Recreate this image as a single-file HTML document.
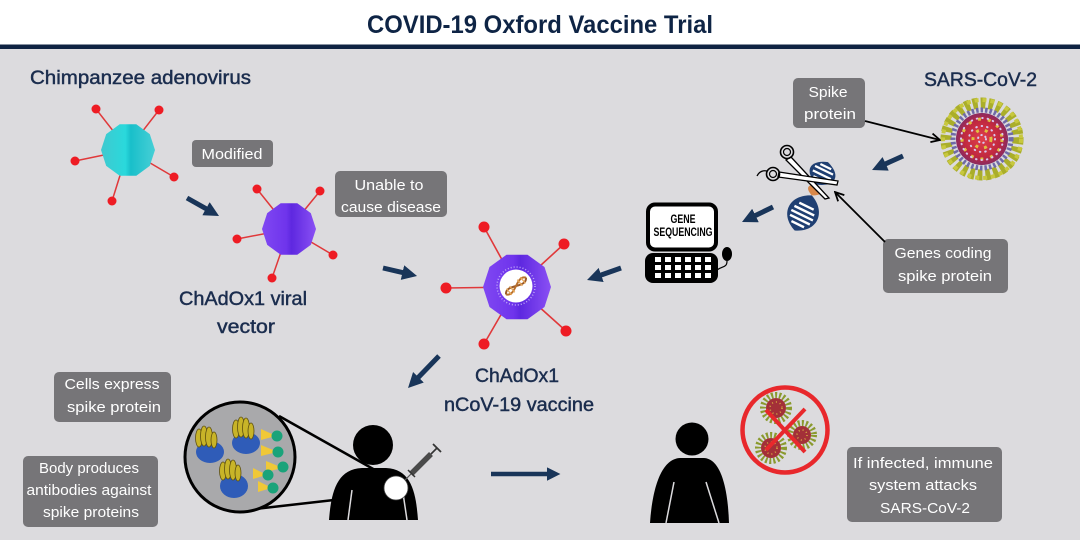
<!DOCTYPE html>
<html><head><meta charset="utf-8"><style>
html,body{margin:0;padding:0;background:#dcdbde;}
svg{display:block;}
.h{font-family:"Liberation Sans",sans-serif;fill:#1b2d4e;stroke:#1b2d4e;stroke-width:0.45;font-size:19px;}
.b{font-family:"Liberation Sans",sans-serif;fill:#ffffff;font-size:15px;text-anchor:middle;}
</style></head><body>
<svg width="1080" height="540" viewBox="0 0 1080 540" xmlns="http://www.w3.org/2000/svg">
<defs>
<marker id="ah" viewBox="0 0 10 10" refX="6" refY="5" markerWidth="3" markerHeight="3" orient="auto" markerUnits="strokeWidth"><path d="M0,0 L10,5 L0,10 z" fill="#193559"/></marker>
<marker id="va" viewBox="0 0 10 10" refX="9" refY="5" markerWidth="11" markerHeight="11" orient="auto" markerUnits="userSpaceOnUse"><path d="M1,1 L9,5 L1,9" fill="none" stroke="#000" stroke-width="1.6"/></marker>
<linearGradient id="gc" x1="0" y1="0" x2="1" y2="0"><stop offset="0" stop-color="#3fc9cf"/><stop offset="0.45" stop-color="#2ad9dc"/><stop offset="0.55" stop-color="#19bfca"/><stop offset="1" stop-color="#47cfd6"/></linearGradient>
<linearGradient id="gp" x1="0" y1="0" x2="1" y2="0"><stop offset="0" stop-color="#8048f2"/><stop offset="0.45" stop-color="#6f34ec"/><stop offset="0.55" stop-color="#5e28e0"/><stop offset="1" stop-color="#8a50f4"/></linearGradient>
<radialGradient id="gr"><stop offset="0" stop-color="#e0404a"/><stop offset="0.7" stop-color="#c02840"/><stop offset="1" stop-color="#8a2a60"/></radialGradient>
</defs>
<rect x="0" y="0" width="1080" height="540" fill="#dcdbde"/>
<rect x="0" y="0" width="1080" height="45" fill="#ffffff"/>
<rect x="0" y="44.5" width="1080" height="4.5" fill="#0f2342"/>
<text x="540" y="33" text-anchor="middle" font-family="Liberation Sans, sans-serif" font-weight="bold" font-size="25" fill="#0e2445" textLength="346" lengthAdjust="spacingAndGlyphs">COVID-19 Oxford Vaccine Trial</text>

<!-- headings -->
<text class="h" x="30" y="84" textLength="221" lengthAdjust="spacingAndGlyphs">Chimpanzee adenovirus</text>
<text class="h" x="924" y="86" textLength="113" lengthAdjust="spacingAndGlyphs">SARS-CoV-2</text>
<text class="h" x="243" y="305" text-anchor="middle" textLength="128" lengthAdjust="spacingAndGlyphs">ChAdOx1 viral</text>
<text class="h" x="246" y="333" text-anchor="middle" textLength="58" lengthAdjust="spacingAndGlyphs">vector</text>
<text class="h" x="517" y="382" text-anchor="middle" textLength="84" lengthAdjust="spacingAndGlyphs">ChAdOx1</text>
<text class="h" x="519" y="411" text-anchor="middle" textLength="150" lengthAdjust="spacingAndGlyphs">nCoV-19 vaccine</text>

<!-- gray boxes -->
<g fill="#767578">
<rect x="192" y="140" width="81" height="27" rx="4"/>
<rect x="335" y="171" width="112" height="46" rx="5"/>
<rect x="793" y="78" width="72" height="50" rx="5"/>
<rect x="883" y="239" width="125" height="54" rx="5"/>
<rect x="54" y="372" width="117" height="50" rx="5"/>
<rect x="23" y="456" width="135" height="71" rx="5"/>
<rect x="847" y="447" width="155" height="75" rx="5"/>
</g>
<text class="b" x="232" y="159" textLength="61" lengthAdjust="spacingAndGlyphs">Modified</text>
<text class="b" x="389" y="190" textLength="69" lengthAdjust="spacingAndGlyphs">Unable to</text>
<text class="b" x="391" y="212" textLength="100" lengthAdjust="spacingAndGlyphs">cause disease</text>
<text class="b" x="828" y="97" textLength="39" lengthAdjust="spacingAndGlyphs">Spike</text>
<text class="b" x="830" y="119" textLength="52" lengthAdjust="spacingAndGlyphs">protein</text>
<text class="b" x="943" y="258" textLength="97" lengthAdjust="spacingAndGlyphs">Genes coding</text>
<text class="b" x="945" y="281" textLength="94" lengthAdjust="spacingAndGlyphs">spike protein</text>
<text class="b" x="112" y="389" textLength="95" lengthAdjust="spacingAndGlyphs">Cells express</text>
<text class="b" x="114" y="412" textLength="94" lengthAdjust="spacingAndGlyphs">spike protein</text>
<text class="b" x="89" y="473" textLength="100" lengthAdjust="spacingAndGlyphs">Body produces</text>
<text class="b" x="89" y="495" textLength="125" lengthAdjust="spacingAndGlyphs">antibodies against</text>
<text class="b" x="91" y="517" textLength="96" lengthAdjust="spacingAndGlyphs">spike proteins</text>
<text class="b" x="923" y="468" textLength="140" lengthAdjust="spacingAndGlyphs">If infected, immune</text>
<text class="b" x="923" y="490" textLength="108" lengthAdjust="spacingAndGlyphs">system attacks</text>
<text class="b" x="925" y="513" textLength="90" lengthAdjust="spacingAndGlyphs">SARS-CoV-2</text>

<!-- cyan virus -->
<g stroke="#e0383a" stroke-width="1.5">
<line x1="128" y1="150" x2="96" y2="109"/><line x1="128" y1="150" x2="159" y2="110"/><line x1="128" y1="150" x2="75" y2="161"/><line x1="128" y1="150" x2="174" y2="177"/><line x1="128" y1="150" x2="112" y2="201"/>
</g>
<g fill="#ee1c24"><circle cx="96" cy="109" r="4.5"/><circle cx="159" cy="110" r="4.5"/><circle cx="75" cy="161" r="4.5"/><circle cx="174" cy="177" r="4.5"/><circle cx="112" cy="201" r="4.5"/></g>
<polygon points="155,150 149.8,165.9 136.3,175.7 119.7,175.7 106.2,165.9 101,150 106.2,134.1 119.7,124.3 136.3,124.3 149.8,134.1" fill="url(#gc)"/>

<!-- purple virus -->
<g stroke="#e0383a" stroke-width="1.5">
<line x1="289" y1="229" x2="257" y2="189"/><line x1="289" y1="229" x2="320" y2="191"/><line x1="289" y1="229" x2="237" y2="239"/><line x1="289" y1="229" x2="333" y2="255"/><line x1="289" y1="229" x2="272" y2="278"/>
</g>
<g fill="#ee1c24"><circle cx="257" cy="189" r="4.5"/><circle cx="320" cy="191" r="4.5"/><circle cx="237" cy="239" r="4.5"/><circle cx="333" cy="255" r="4.5"/><circle cx="272" cy="278" r="4.5"/></g>
<polygon points="316,229 310.8,244.9 297.3,254.7 280.7,254.7 267.2,244.9 262,229 267.2,213.1 280.7,203.3 297.3,203.3 310.8,213.1" fill="url(#gp)"/>

<!-- vaccine virus -->
<g stroke="#e0383a" stroke-width="1.6">
<line x1="517" y1="287" x2="484" y2="227"/><line x1="517" y1="287" x2="564" y2="244"/><line x1="517" y1="287" x2="446" y2="288"/><line x1="517" y1="287" x2="566" y2="331"/><line x1="517" y1="287" x2="484" y2="344"/>
</g>
<g fill="#ee1c24"><circle cx="484" cy="227" r="5.5"/><circle cx="564" cy="244" r="5.5"/><circle cx="446" cy="288" r="5.5"/><circle cx="566" cy="331" r="5.5"/><circle cx="484" cy="344" r="5.5"/></g>
<polygon points="551,287 544.5,307 527.5,319.3 506.5,319.3 489.5,307 483,287 489.5,267 506.5,254.7 527.5,254.7 544.5,267" fill="url(#gp)"/>
<circle cx="516" cy="286" r="19" fill="none" stroke="#c0a8f8" stroke-width="1.5" stroke-dasharray="1 2"/>
<circle cx="516" cy="286" r="16.5" fill="#ffffff"/>
<g transform="translate(516,286) rotate(-40)" fill="none">
<path d="M-13,0 C-7,-9 7,9 13,0" stroke="#9a5a28" stroke-width="2"/>
<path d="M-13,0 C-7,9 7,-9 13,0" stroke="#b8702e" stroke-width="2"/>
<g stroke="#e8a858" stroke-width="1.3"><line x1="-9" y1="-4" x2="-9" y2="4"/><line x1="-5" y1="-4" x2="-5" y2="4"/><line x1="5" y1="-4" x2="5" y2="4"/><line x1="9" y1="-4" x2="9" y2="4"/></g>
</g>

<!-- computer -->
<rect x="648" y="204.5" width="68" height="45" rx="7" fill="#ffffff" stroke="#000" stroke-width="4"/>
<text x="683" y="223" text-anchor="middle" font-family="Liberation Sans, sans-serif" font-weight="bold" font-size="12" fill="#000" textLength="25" lengthAdjust="spacingAndGlyphs">GENE</text>
<text x="683" y="236" text-anchor="middle" font-family="Liberation Sans, sans-serif" font-weight="bold" font-size="12" fill="#000" textLength="59" lengthAdjust="spacingAndGlyphs">SEQUENCING</text>
<rect x="645" y="253" width="73" height="30" rx="8" fill="#000"/>
<g fill="#fff">
<rect x="655" y="257" width="6" height="5"/><rect x="665" y="257" width="6" height="5"/><rect x="675" y="257" width="6" height="5"/><rect x="685" y="257" width="6" height="5"/><rect x="695" y="257" width="6" height="5"/><rect x="705" y="257" width="6" height="5"/>
<rect x="655" y="265" width="6" height="5"/><rect x="665" y="265" width="6" height="5"/><rect x="675" y="265" width="6" height="5"/><rect x="685" y="265" width="6" height="5"/><rect x="695" y="265" width="6" height="5"/><rect x="705" y="265" width="6" height="5"/>
<rect x="655" y="273" width="6" height="5"/><rect x="665" y="273" width="6" height="5"/><rect x="675" y="273" width="6" height="5"/><rect x="685" y="273" width="6" height="5"/><rect x="695" y="273" width="6" height="5"/><rect x="705" y="273" width="6" height="5"/>
</g>
<ellipse cx="727" cy="254" rx="5" ry="7" fill="#000"/>
<path d="M727,261 C727,268 722,266 717,270" fill="none" stroke="#000" stroke-width="1.2"/>

<!-- navy arrows -->
<g stroke="#193559" stroke-width="5" marker-end="url(#ah)" fill="none">
<line x1="187" y1="198" x2="213.8" y2="213.1"/>
<line x1="383" y1="268" x2="411.2" y2="274.6"/>
<line x1="621" y1="268" x2="592.7" y2="278"/>
<line x1="773" y1="207" x2="747.4" y2="219.4"/>
<line x1="903" y1="156" x2="877.5" y2="167.5"/>
<line x1="439" y1="356" x2="412.2" y2="383.7"/>
<line x1="491" y1="474" x2="555" y2="474" stroke-width="4.5"/>
</g>

<!-- DNA -->
<g transform="translate(810,199) rotate(-64)">
<path d="M-35,0 C-27,-21 -5,-21 4,0 C-5,21 -27,21 -35,0 Z" fill="#1f3f72"/>
<path d="M-28,-7 L-28,7 M-23,-11 L-23,11 M-18,-12 L-18,12 M-13,-11 L-13,11 M-8,-8 L-8,8" stroke="#fff" stroke-width="2.4"/>
<path d="M4,0 C8,-9 12,-9 16,0 C12,9 8,9 4,0 Z" fill="#d8884a"/>
<path d="M16,0 C22,-18 35,-18 41,0 C35,18 22,18 16,0 Z" fill="#1f3f72"/>
<path d="M22,-7 L22,7 M27,-10 L27,10 M32,-10 L32,10 M36,-6 L36,6" stroke="#fff" stroke-width="2.2"/>
</g>
<!-- scissors -->
<g stroke="#000" stroke-width="1.3" fill="#fff">
<path d="M791,157 L829,198 L825,199 L786,160 Z"/>
<path d="M779,172 L838,181 L837,185 L778,177 Z"/>
<circle cx="787" cy="152" r="6.5" fill="none" stroke-width="1.6"/>
<circle cx="787" cy="152" r="3.5" fill="none" stroke-width="1.2"/>
<circle cx="773" cy="174" r="6.5" fill="none" stroke-width="1.6"/>
<circle cx="773" cy="174" r="3.5" fill="none" stroke-width="1.2"/>
<path d="M767,171 C762,170 759,172 757,176" fill="none"/>
</g>

<!-- callout lines -->
<line x1="865" y1="121" x2="940" y2="140" stroke="#000" stroke-width="1.8" marker-end="url(#va)"/>
<line x1="885" y1="242" x2="835" y2="192" stroke="#000" stroke-width="1.8" marker-end="url(#va)"/>

<!-- SARS-CoV-2 -->
<g transform="translate(982,139)">
<circle r="36" fill="none" stroke="#aaae2a" stroke-width="11" stroke-dasharray="5 3"/>
<circle r="39" fill="none" stroke="#c8c83e" stroke-width="4" stroke-dasharray="4 4"/>
<circle r="29" fill="none" stroke="#6f6aa8" stroke-width="5" stroke-dasharray="2.5 2"/>
<circle r="26" fill="url(#gr)"/>
<circle r="20" fill="none" stroke="#e0c040" stroke-width="3" stroke-dasharray="3 7"/>
<circle r="21" fill="none" stroke="#d8c8f0" stroke-width="2" stroke-dasharray="0.5 5" stroke-linecap="round"/>
<circle r="13" fill="none" stroke="#d8c8f0" stroke-width="2" stroke-dasharray="0.5 5" stroke-linecap="round"/>
<circle r="9" fill="none" stroke="#e0c040" stroke-width="3" stroke-dasharray="3 6"/>
<circle r="4" fill="none" stroke="#d8c8f0" stroke-width="2" stroke-dasharray="0.5 4" stroke-linecap="round"/>
</g>

<!-- magnifier -->
<line x1="279" y1="416" x2="375" y2="470" stroke="#000" stroke-width="2.5"/>
<line x1="255" y1="509" x2="334" y2="500" stroke="#000" stroke-width="2.5"/>
<circle cx="240" cy="457" r="55" fill="#a9a9ab" stroke="#000" stroke-width="3"/>
<g fill="#2f5cb8">
<ellipse cx="210" cy="452" rx="14" ry="11"/>
<ellipse cx="246" cy="443" rx="14" ry="11"/>
<ellipse cx="234" cy="486" rx="14" ry="12"/>
</g>
<g fill="#c8b428" stroke="#5e5010" stroke-width="0.8">
<ellipse cx="199" cy="438" rx="3.5" ry="9"/><ellipse cx="204" cy="436" rx="3.5" ry="10"/><ellipse cx="209" cy="437" rx="3.5" ry="10"/><ellipse cx="214" cy="440" rx="3" ry="8"/>
<ellipse cx="236" cy="429" rx="3.5" ry="9"/><ellipse cx="241" cy="427" rx="3.5" ry="10"/><ellipse cx="246" cy="428" rx="3.5" ry="10"/><ellipse cx="251" cy="431" rx="3" ry="8"/>
<ellipse cx="223" cy="471" rx="3.5" ry="9"/><ellipse cx="228" cy="469" rx="3.5" ry="10"/><ellipse cx="233" cy="470" rx="3.5" ry="10"/><ellipse cx="238" cy="473" rx="3" ry="8"/>
</g>
<g fill="#f0c838">
<polygon points="261,429 272,434 272,437 261,440"/>
<polygon points="261,445 273,450 273,453 261,456"/>
<polygon points="266,461 278,466 278,469 266,472"/>
<polygon points="253,468 263,473 263,476 253,479"/>
<polygon points="258,481 268,486 268,489 258,492"/>
</g>
<g fill="#1aa37a">
<circle cx="277" cy="436" r="5.5"/><circle cx="278" cy="452" r="5.5"/><circle cx="283" cy="467" r="5.5"/><circle cx="268" cy="475" r="5.5"/><circle cx="273" cy="488" r="5.5"/>
</g>

<!-- person 1 -->
<circle cx="373" cy="445" r="20" fill="#000"/>
<path d="M329,520 C331,494 336,469 362,468 L386,468 C412,469 416,494 418,520 Z" fill="#000"/>
<line x1="352" y1="490" x2="348" y2="520" stroke="#dcdbde" stroke-width="1.5"/>
<line x1="403" y1="493" x2="407" y2="520" stroke="#dcdbde" stroke-width="1.5"/>
<line x1="403" y1="482" x2="412" y2="473" stroke="#555" stroke-width="1.2"/>
<line x1="411" y1="474" x2="431" y2="454" stroke="#4a4a4a" stroke-width="5.5"/>
<line x1="431" y1="454" x2="437" y2="448" stroke="#333" stroke-width="1.6"/>
<line x1="433" y1="444" x2="441" y2="452" stroke="#333" stroke-width="1.8"/>
<line x1="408" y1="470" x2="415" y2="477" stroke="#333" stroke-width="1.5"/>
<circle cx="396" cy="488" r="12" fill="#fff" stroke="#444" stroke-width="0.8"/>

<!-- person 2 -->
<circle cx="692" cy="439" r="16.5" fill="#000"/>
<path d="M650,523 C652,492 660,459 680,458 L704,458 C722,459 728,492 729,523 Z" fill="#000"/>
<line x1="674" y1="482" x2="666" y2="523" stroke="#dcdbde" stroke-width="1.5"/>
<line x1="706" y1="482" x2="719" y2="523" stroke="#dcdbde" stroke-width="1.5"/>

<!-- no-virus sign -->
<g>
<g transform="translate(776,408)"><circle r="13" fill="none" stroke="#8a9a2e" stroke-width="6" stroke-dasharray="2 2"/><circle r="10" fill="#a33038"/><circle r="6" fill="none" stroke="#d8b040" stroke-width="1.5" stroke-dasharray="1 3"/></g>
<g transform="translate(802,435)"><circle r="12" fill="none" stroke="#8a9a2e" stroke-width="6" stroke-dasharray="2 2"/><circle r="9" fill="#a33038"/><circle r="5" fill="none" stroke="#d8b040" stroke-width="1.5" stroke-dasharray="1 3"/></g>
<g transform="translate(771,448)"><circle r="13" fill="none" stroke="#8a9a2e" stroke-width="6" stroke-dasharray="2 2"/><circle r="10" fill="#a33038"/><circle r="6" fill="none" stroke="#d8b040" stroke-width="1.5" stroke-dasharray="1 3"/></g>
<line x1="766" y1="410" x2="805" y2="452" stroke="#e8282c" stroke-width="4"/>
<line x1="805" y1="409" x2="766" y2="450" stroke="#e8282c" stroke-width="4"/>
<circle cx="785" cy="430" r="42.5" fill="none" stroke="#e8282c" stroke-width="4.5"/>
</g>
</svg>
</body></html>
